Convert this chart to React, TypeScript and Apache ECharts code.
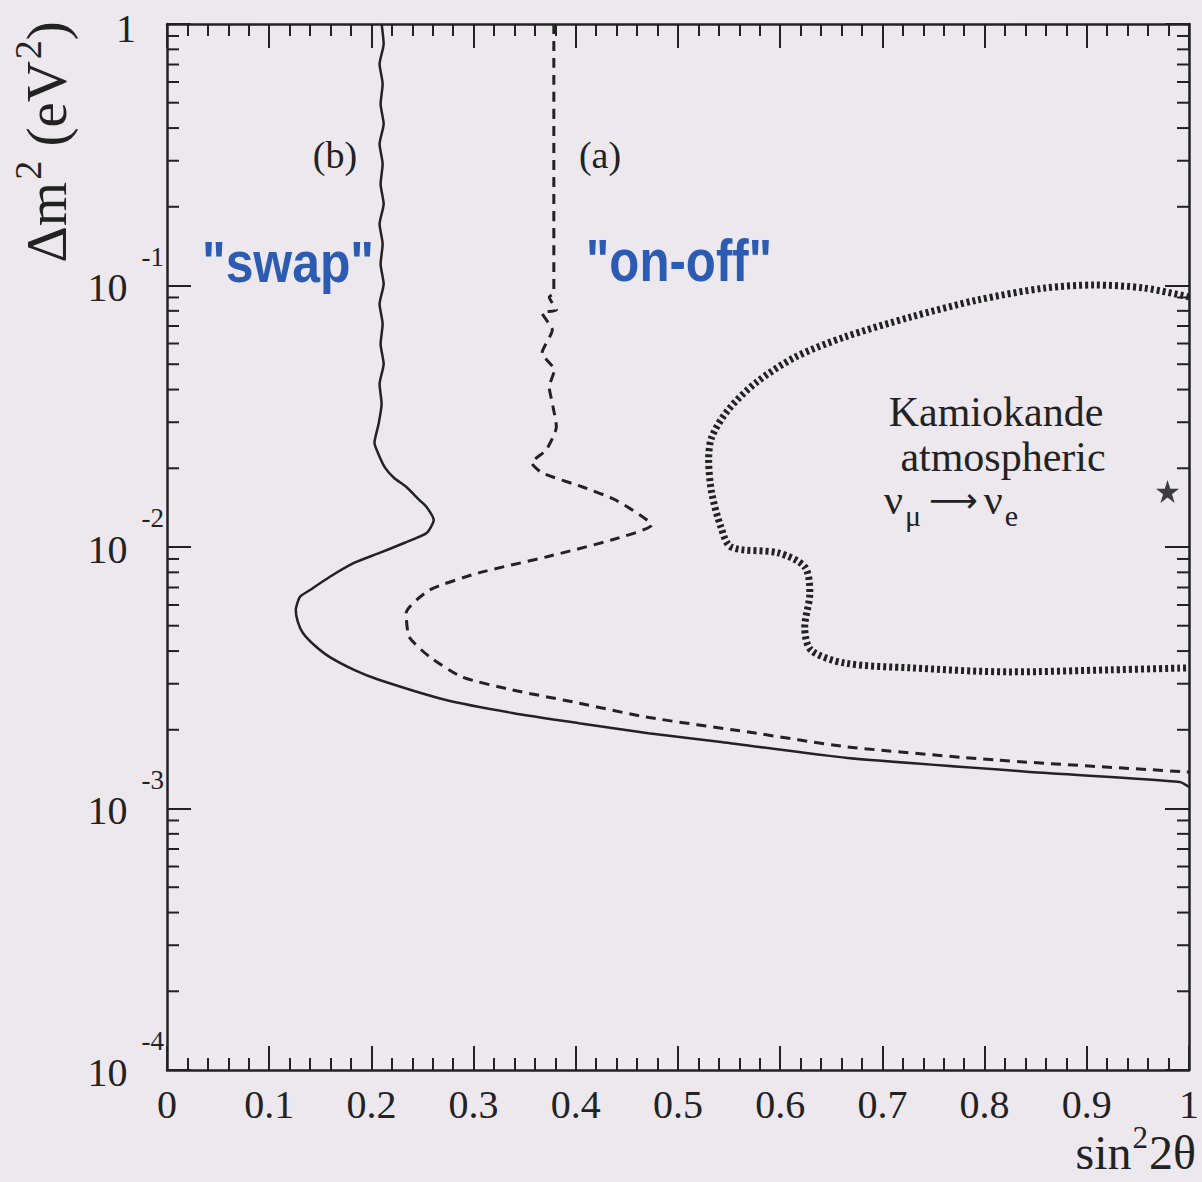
import React, { useEffect, useRef } from "react";
import * as echarts from "echarts";

// sin^2(2θ) / Δm^2 (eV^2) exclusion contours
// (b) "swap" — solid
const SWAP_X = [0.210, 0.212, 0.208, 0.211, 0.209, 0.212, 0.208, 0.211, 0.209, 0.212, 0.208, 0.211, 0.209, 0.212, 0.208, 0.211, 0.209, 0.212, 0.208, 0.210, 0.207, 0.203, 0.206, 0.213, 0.222, 0.234, 0.247, 0.254, 0.261, 0.254, 0.232, 0.208, 0.183, 0.159, 0.140, 0.130, 0.126, 0.128, 0.133, 0.144, 0.159, 0.183, 0.208, 0.273, 0.338, 0.403, 0.471, 0.540, 0.666, 0.861, 0.991, 1.0];
const SWAP_DM2 = [1.0, 0.838, 0.703, 0.590, 0.494, 0.4146, 0.3477, 0.2915, 0.2444, 0.2049, 0.1718, 0.1441, 0.1208, 0.1013, 0.0850, 0.0712, 0.0598, 0.0501, 0.0420, 0.0352, 0.0295, 0.0250, 0.0231, 0.0202, 0.0184, 0.0170, 0.01512, 0.01422, 0.01269, 0.01131, 0.01036, 0.00949, 0.00869, 0.00768, 0.00685, 0.00644, 0.00574, 0.00517, 0.00469, 0.00422, 0.00380, 0.00339, 0.00310, 0.00260, 0.00232, 0.00212, 0.00194, 0.00180, 0.00156, 0.001367, 0.001263, 0.001209];

// (a) "on-off" — dashed
const ONOFF_X = [0.3785, 0.3785, 0.374, 0.381, 0.367, 0.377, 0.367, 0.379, 0.374, 0.377, 0.381, 0.371, 0.357, 0.367, 0.406, 0.439, 0.474, 0.435, 0.371, 0.305, 0.257, 0.234, 0.237, 0.257, 0.289, 0.338, 0.403, 0.468, 0.569, 0.666, 0.813, 1.0];
const ONOFF_DM2 = [1.0, 0.0936, 0.0904, 0.0806, 0.0785, 0.0676, 0.0552, 0.0475, 0.0409, 0.0355, 0.0288, 0.0235, 0.0210, 0.0192, 0.0170, 0.01512, 0.01214, 0.01064, 0.00916, 0.00796, 0.00685, 0.00559, 0.00453, 0.00380, 0.00318, 0.00284, 0.00253, 0.00224, 0.00196, 0.00172, 0.00153, 0.001379];

// Kamiokande atmospheric νμ → νe allowed region — dotted
const KAMIOKA_X = [1.0, 0.956, 0.907, 0.859, 0.793, 0.728, 0.663, 0.615, 0.576, 0.549, 0.533, 0.530, 0.533, 0.542, 0.552, 0.598, 0.624, 0.629, 0.624, 0.630, 0.663, 0.728, 0.825, 0.923, 1.0];
const KAMIOKA_DM2 = [0.0904, 0.0978, 0.1004, 0.0978, 0.0880, 0.0758, 0.0635, 0.0533, 0.0424, 0.0334, 0.0263, 0.0215, 0.0161, 0.01193, 0.0100, 0.00949, 0.00839, 0.00667, 0.00494, 0.00404, 0.00360, 0.00345, 0.00333, 0.00339, 0.00345];

// Best-fit point
const BEST_FIT = [[0.979, 0.0163]];

// Axis ranges
const X_MIN = 0;
const X_MAX = 1;
const X_STEP = 0.1;
const Y_MIN = 1e-4;
const Y_MAX = 1;
const DECADES = [-4, -3, -2, -1];
const MINOR_MULTIPLES = [2, 3, 4, 5, 6, 7, 8, 9];

const zip = (xs: number[], ys: number[]) => xs.map((x, i) => [x, ys[i]]);

const INK = "#222";
const BLUE = "#2c5bb2";
const BG = "#ece8ee";
const SERIF = "'Liberation Serif', 'Times New Roman', serif";
const SANS = "'Liberation Sans', Arial, sans-serif";

const STAR =
  "path://M50,0 L61.8,35.1 L98.9,35.1 L68.9,56.8 L80.3,91.9 L50,70.2 L19.7,91.9 L31.1,56.8 L1.1,35.1 L38.2,35.1 Z";

export default function App() {
  const ref = useRef<HTMLDivElement>(null);

  useEffect(() => {
    if (!ref.current) return;
    const chart = echarts.init(ref.current, undefined, { renderer: "svg" });

    const minorTickData: number[][] = [];
    DECADES.forEach((d) =>
      MINOR_MULTIPLES.forEach((m) => minorTickData.push([0, m * Math.pow(10, d)]))
    );

    const tickStyle = { color: INK, width: 2 };
    const xAxisBase = {
      type: "value",
      min: X_MIN,
      max: X_MAX,
      interval: X_STEP,
      axisLine: { show: true, onZero: false, lineStyle: { color: INK, width: 2.5 } },
      axisTick: { show: true, inside: true, length: 24, lineStyle: tickStyle },
      minorTick: { show: true, splitNumber: 5, length: 12, lineStyle: tickStyle },
      splitLine: { show: false },
    };
    const yAxisBase = {
      type: "log",
      logBase: 10,
      min: Y_MIN,
      max: Y_MAX,
      axisLine: { show: true, onZero: false, lineStyle: { color: INK, width: 2.5 } },
      axisTick: { show: true, inside: true, length: 24, lineStyle: tickStyle },
      splitLine: { show: false },
    };

    chart.setOption({
      animation: false,
      backgroundColor: BG,
      grid: { left: 167, right: 10, top: 24, bottom: 112, containLabel: false },
      xAxis: [
        {
          ...xAxisBase,
          position: "bottom",
          axisLabel: {
            show: true,
            margin: 14,
            color: INK,
            fontFamily: SERIF,
            fontSize: 40,
            formatter: (v: number) => (v === 0 ? "0" : v === 1 ? "1" : v.toFixed(1)),
          },
        },
        { ...xAxisBase, position: "top", axisLabel: { show: false } },
      ],
      yAxis: [
        {
          ...yAxisBase,
          position: "left",
          axisLabel: {
            show: true,
            margin: 3,
            color: INK,
            fontFamily: SERIF,
            formatter: (v: number) => {
              const e = Math.round(Math.log10(v));
              return e === 0 ? "{one|1}" : `{b|10}{s|${e}}`;
            },
            rich: {
              one: { fontSize: 40, fontFamily: SERIF, color: INK, padding: [8, 28, 0, 0] },
              b: { fontSize: 40, fontFamily: SERIF, color: INK, padding: [4, 0, 0, 0] },
              s: { fontSize: 27, fontFamily: SERIF, color: INK, padding: [0, 0, 58, 14] },
            },
          },
        },
        { ...yAxisBase, position: "right", axisLabel: { show: false } },
      ],
      series: [
        {
          name: "swap",
          type: "line",
          data: zip(SWAP_X, SWAP_DM2),
          showSymbol: false,
          smooth: 0.2,
          lineStyle: { color: INK, width: 2.5 },
        },
        {
          name: "on-off",
          type: "line",
          data: zip(ONOFF_X, ONOFF_DM2),
          showSymbol: false,
          smooth: 0.2,
          lineStyle: { color: INK, width: 3, type: [10, 7] },
        },
        {
          name: "Kamiokande",
          type: "line",
          data: zip(KAMIOKA_X, KAMIOKA_DM2),
          showSymbol: false,
          smooth: 0.3,
          lineStyle: { color: INK, width: 7, type: [3, 3] },
        },
        {
          name: "best fit",
          type: "scatter",
          data: BEST_FIT,
          symbol: STAR,
          symbolSize: 23,
          itemStyle: { color: "#111" },
        },
        {
          // minor decade ticks (2..9) on the left and right log axes
          name: "minor ticks",
          type: "custom",
          data: minorTickData,
          silent: true,
          renderItem: (_params: any, api: any) => {
            const v = api.value(1);
            const l = api.coord([X_MIN, v]);
            const r = api.coord([X_MAX, v]);
            const style = { stroke: INK, lineWidth: 2 };
            return {
              type: "group",
              children: [
                { type: "line", shape: { x1: l[0], y1: l[1], x2: l[0] + 12, y2: l[1] }, style },
                { type: "line", shape: { x1: r[0] - 12, y1: r[1], x2: r[0], y2: r[1] }, style },
              ],
            };
          },
        },
      ],
      graphic: [
        {
          type: "text",
          x: 46,
          y: 142,
          rotation: Math.PI / 2,
          style: {
            text: "{m|Δm}{sup|2}{m| (eV}{sup|2}{m|)}",
            align: "center",
            verticalAlign: "middle",
            fill: INK,
            rich: {
              m: { fontSize: 57, fontFamily: SERIF, fill: INK },
              sup: { fontSize: 38, fontFamily: SERIF, fill: INK, padding: [0, 0, 36, 2] },
            },
          },
        },
        {
          type: "text",
          x: 1196,
          y: 1152,
          style: {
            text: "{t|sin}{sup|2}{t|2θ}",
            align: "right",
            verticalAlign: "middle",
            fill: INK,
            rich: {
              t: { fontSize: 48, fontFamily: SERIF, fill: INK, lineHeight: 42 },
              sup: { fontSize: 31, fontFamily: SERIF, fill: INK, lineHeight: 42, padding: [0, 1, 30, 1] },
            },
          },
        },
        {
          type: "text",
          x: 335,
          y: 155,
          style: { text: "(b)", align: "center", verticalAlign: "middle", fontSize: 38, fontFamily: SERIF, fill: INK },
        },
        {
          type: "text",
          x: 600,
          y: 155,
          style: { text: "(a)", align: "center", verticalAlign: "middle", fontSize: 38, fontFamily: SERIF, fill: INK },
        },
        {
          type: "text",
          x: 288,
          y: 262,
          scaleX: 0.86,
          style: {
            text: '"swap"',
            align: "center",
            verticalAlign: "middle",
            fontSize: 58,
            fontWeight: "bold",
            fontFamily: SANS,
            fill: BLUE,
          },
        },
        {
          type: "text",
          x: 679,
          y: 260,
          scaleX: 0.82,
          style: {
            text: '"on-off"',
            align: "center",
            verticalAlign: "middle",
            fontSize: 60,
            fontWeight: "bold",
            fontFamily: SANS,
            fill: BLUE,
          },
        },
        {
          type: "text",
          x: 996,
          y: 412,
          style: { text: "Kamiokande", align: "center", verticalAlign: "middle", fontSize: 42, fontFamily: SERIF, fill: INK },
        },
        {
          type: "text",
          x: 1003,
          y: 457,
          style: { text: "atmospheric", align: "center", verticalAlign: "middle", fontSize: 42, fontFamily: SERIF, fill: INK },
        },
        {
          type: "text",
          x: 884,
          y: 500,
          style: {
            text: "{n|ν}{sub|μ}{arr|⟶}{n|ν}{sub|e}",
            align: "left",
            verticalAlign: "middle",
            fill: INK,
            rich: {
              n: { fontSize: 42, fontFamily: SERIF, fill: INK },
              sub: { fontSize: 30, fontFamily: SERIF, fill: INK, padding: [30, 0, 0, 2] },
              arr: { fontSize: 34, fontFamily: "'DejaVu Sans', sans-serif", fill: INK, padding: [0, 6, 0, 8] },
            },
          },
        },
      ],
    });

    return () => chart.dispose();
  }, []);

  return (
    <div
      ref={ref}
      style={{ position: "fixed", left: 0, top: 0, width: 1202, height: 1182, background: BG }}
    />
  );
}
